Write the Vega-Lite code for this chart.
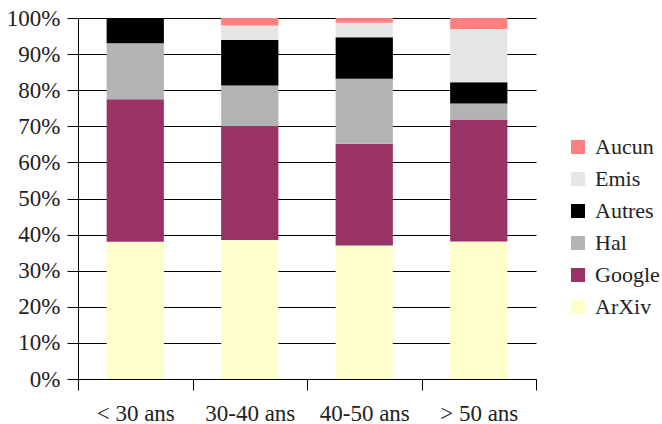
{
  "$schema": "https://vega.github.io/schema/vega-lite/v6.json",
  "width": 458,
  "height": 361,
  "autosize": {"type": "none"},
  "padding": {"left": 78, "top": 18, "right": 126, "bottom": 45},
  "background": "white",
  "data": {
    "values": [
      {"age": "< 30 ans", "source": "ArXiv", "rank": 1, "pct": 38},
      {"age": "< 30 ans", "source": "Google", "rank": 2, "pct": 39.5},
      {"age": "< 30 ans", "source": "Hal", "rank": 3, "pct": 15.5},
      {"age": "< 30 ans", "source": "Autres", "rank": 4, "pct": 7},
      {"age": "30-40 ans", "source": "ArXiv", "rank": 1, "pct": 38.5},
      {"age": "30-40 ans", "source": "Google", "rank": 2, "pct": 31.5},
      {"age": "30-40 ans", "source": "Hal", "rank": 3, "pct": 11.3},
      {"age": "30-40 ans", "source": "Autres", "rank": 4, "pct": 12.6},
      {"age": "30-40 ans", "source": "Emis", "rank": 5, "pct": 4},
      {"age": "30-40 ans", "source": "Aucun", "rank": 6, "pct": 2.1},
      {"age": "40-50 ans", "source": "ArXiv", "rank": 1, "pct": 37},
      {"age": "40-50 ans", "source": "Google", "rank": 2, "pct": 28.2},
      {"age": "40-50 ans", "source": "Hal", "rank": 3, "pct": 18},
      {"age": "40-50 ans", "source": "Autres", "rank": 4, "pct": 11.5},
      {"age": "40-50 ans", "source": "Emis", "rank": 5, "pct": 4},
      {"age": "40-50 ans", "source": "Aucun", "rank": 6, "pct": 1.3},
      {"age": "> 50 ans", "source": "ArXiv", "rank": 1, "pct": 38.1},
      {"age": "> 50 ans", "source": "Google", "rank": 2, "pct": 33.8},
      {"age": "> 50 ans", "source": "Hal", "rank": 3, "pct": 4.4},
      {"age": "> 50 ans", "source": "Autres", "rank": 4, "pct": 5.9},
      {"age": "> 50 ans", "source": "Emis", "rank": 5, "pct": 14.75},
      {"age": "> 50 ans", "source": "Aucun", "rank": 6, "pct": 3.05}
    ]
  },
  "mark": {"type": "bar", "width": {"band": 0.5}},
  "encoding": {
    "x": {
      "field": "age",
      "type": "nominal",
      "sort": ["< 30 ans", "30-40 ans", "40-50 ans", "> 50 ans"],
      "scale": {"paddingInner": 0, "paddingOuter": 0},
      "axis": {
        "title": null,
        "labelAngle": 0,
        "tickBand": "extent",
        "tickSize": 11,
        "labelPadding": 12,
        "domainColor": "black",
        "tickColor": "black",
        "labelFontSize": 23,
        "labelFont": "Liberation Serif",
        "labelColor": "#222",
        "grid": false
      }
    },
    "y": {
      "field": "pct",
      "type": "quantitative",
      "stack": "zero",
      "scale": {"domain": [0, 100], "nice": false},
      "axis": {
        "title": null,
        "values": [0, 10, 20, 30, 40, 50, 60, 70, 80, 90, 100],
        "labelExpr": "datum.value + '%'",
        "tickSize": 11,
        "labelPadding": 7,
        "grid": true,
        "gridColor": "black",
        "gridOpacity": 1,
        "domainColor": "black",
        "tickColor": "black",
        "labelFontSize": 23,
        "labelFont": "Liberation Serif",
        "labelColor": "#222"
      }
    },
    "color": {
      "field": "source",
      "type": "nominal",
      "scale": {
        "domain": ["Aucun", "Emis", "Autres", "Hal", "Google", "ArXiv"],
        "range": ["#FF8080", "#E6E6E6", "#000000", "#B3B3B3", "#993366", "#FFFFCC"]
      },
      "legend": {
        "title": null,
        "orient": "none",
        "legendX": 489,
        "legendY": 118,
        "padding": 0,
        "symbolType": "square",
        "symbolSize": 196,
        "symbolStrokeWidth": 0,
        "labelOffset": 6,
        "rowPadding": 10,
        "labelFontSize": 22,
        "labelFont": "Liberation Serif",
        "labelColor": "#222"
      }
    },
    "order": {"field": "rank", "type": "quantitative"}
  },
  "config": {"view": {"stroke": null}}
}
